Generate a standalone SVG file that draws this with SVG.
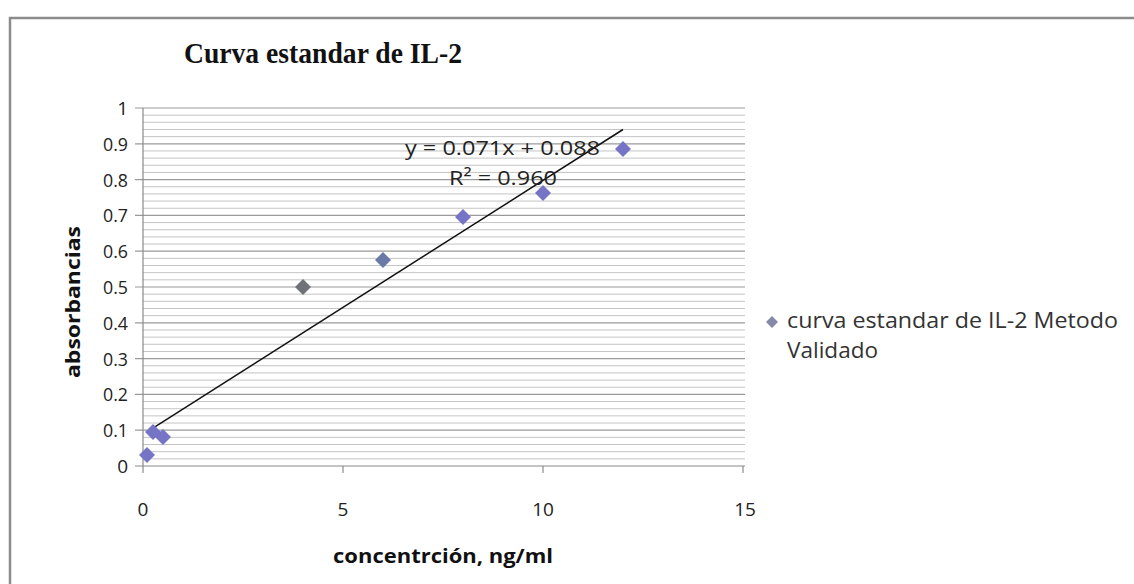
<svg xmlns="http://www.w3.org/2000/svg" width="1134" height="584" viewBox="0 0 1134 584">
<style>
.num{font-family:"Open Sans","Liberation Sans",sans-serif;font-size:19px;fill:#222}
.eq{font-family:"Open Sans","Liberation Sans",sans-serif;font-size:20px;fill:#222}
.ax{font-family:"Open Sans","Liberation Sans",sans-serif;font-size:20px;font-weight:bold;fill:#111}
.leg{font-family:"Open Sans","Liberation Sans",sans-serif;font-size:22px;fill:#333}
.ttl{font-family:"Liberation Serif","Times New Roman",serif;font-size:29px;font-weight:bold;fill:#111}
.minor{stroke:#c4c4c4;stroke-width:1;fill:none}
.major{stroke:#9a9a9a;stroke-width:1.2;fill:none}
.axis{stroke:#8a8a8a;stroke-width:1.2;fill:none}
.pt{fill:#7674c4}
</style>
<defs>
<path id="dia" d="M0,-8 L8,0 L0,8 L-8,0 Z"/>
</defs>
<rect x="0" y="0" width="1134" height="584" fill="#ffffff"/>
<g id="frame">
<path d="M10,584 V18 H1134" stroke="#8c8c8c" stroke-width="2.5" fill="none"/>
</g>
<g id="title"><text class="ttl" x="184" y="63" textLength="278" lengthAdjust="spacingAndGlyphs">Curva estandar de IL-2</text></g>
<g id="grid">
<path class="minor" d="M143,458.84H745M143,451.68H745M143,444.52H745M143,437.36H745M143,423.04H745M143,415.88H745M143,408.72H745M143,401.56H745M143,387.24H745M143,380.08H745M143,372.92H745M143,365.76H745M143,351.44H745M143,344.28H745M143,337.12H745M143,329.96H745M143,315.64H745M143,308.48H745M143,301.32H745M143,294.16H745M143,279.84H745M143,272.68H745M143,265.52H745M143,258.36H745M143,244.04H745M143,236.88H745M143,229.72H745M143,222.56H745M143,208.24H745M143,201.08H745M143,193.92H745M143,186.76H745M143,172.44H745M143,165.28H745M143,158.12H745M143,150.96H745M143,136.64H745M143,129.48H745M143,122.32H745M143,115.16H745"/>
<path class="major" d="M135,430.2H745M135,394.4H745M135,358.6H745M135,322.8H745M135,287H745M135,251.2H745M135,215.4H745M135,179.6H745M135,143.8H745M135,108H745"/>
</g>
<g id="axes">
<path class="axis" d="M143,108V473M135,466H745M343,466V473M543,466V473M743,466V473"/>
</g>
<g id="yticks">
<text class="num" text-anchor="end" x="128" y="115">1</text>
<text class="num" text-anchor="end" x="128" y="150.8" textLength="25" lengthAdjust="spacingAndGlyphs">0.9</text>
<text class="num" text-anchor="end" x="128" y="186.6" textLength="25" lengthAdjust="spacingAndGlyphs">0.8</text>
<text class="num" text-anchor="end" x="128" y="222.4" textLength="25" lengthAdjust="spacingAndGlyphs">0.7</text>
<text class="num" text-anchor="end" x="128" y="258.2" textLength="25" lengthAdjust="spacingAndGlyphs">0.6</text>
<text class="num" text-anchor="end" x="128" y="294" textLength="25" lengthAdjust="spacingAndGlyphs">0.5</text>
<text class="num" text-anchor="end" x="128" y="329.8" textLength="25" lengthAdjust="spacingAndGlyphs">0.4</text>
<text class="num" text-anchor="end" x="128" y="365.6" textLength="25" lengthAdjust="spacingAndGlyphs">0.3</text>
<text class="num" text-anchor="end" x="128" y="401.4" textLength="25" lengthAdjust="spacingAndGlyphs">0.2</text>
<text class="num" text-anchor="end" x="128" y="437.2" textLength="25" lengthAdjust="spacingAndGlyphs">0.1</text>
<text class="num" text-anchor="end" x="128" y="473">0</text>
</g>
<g id="xticks">
<text class="num" text-anchor="middle" x="143" y="516">0</text>
<text class="num" text-anchor="middle" x="343" y="516">5</text>
<text class="num" text-anchor="middle" x="543" y="516">10</text>
<text class="num" text-anchor="middle" x="745" y="516">15</text>
</g>
<g id="axis-titles">
<text class="ax" x="333" y="563" textLength="220" lengthAdjust="spacingAndGlyphs">concentrción, ng/ml</text>
<text class="ax" transform="translate(80,378) rotate(-90)" x="0" y="0" textLength="152" lengthAdjust="spacingAndGlyphs">absorbancias</text>
</g>
<g id="connectors">
<path id="trendline" d="M149,430.7 L623,129.5" stroke="#111" stroke-width="1.5" fill="none"/>
</g>
<g id="points">
<use href="#dia" class="pt" x="147" y="455"/>
<use href="#dia" class="pt" x="153" y="432"/>
<use href="#dia" class="pt" x="163" y="437"/>
<use href="#dia" x="303" y="287" fill="#6f7277"/>
<use href="#dia" x="383" y="260" fill="#6a79a6"/>
<use href="#dia" class="pt" x="463" y="217"/>
<use href="#dia" class="pt" x="543" y="193"/>
<use href="#dia" class="pt" x="623" y="149"/>
</g>
<g id="equation">
<text class="eq" x="405" y="155" textLength="195" lengthAdjust="spacingAndGlyphs">y = 0.071x + 0.088</text>
<text class="eq" x="449" y="185" textLength="108" lengthAdjust="spacingAndGlyphs">R² = 0.960</text>
</g>
<g id="legend">
<path d="M772,316 L778,322 L772,328 L766,322 Z" fill="#8888a8"/>
<text class="leg" x="787" y="328" textLength="331" lengthAdjust="spacingAndGlyphs">curva estandar de IL-2 Metodo</text>
<text class="leg" x="787" y="358" textLength="91" lengthAdjust="spacingAndGlyphs">Validado</text>
</g>
</svg>
